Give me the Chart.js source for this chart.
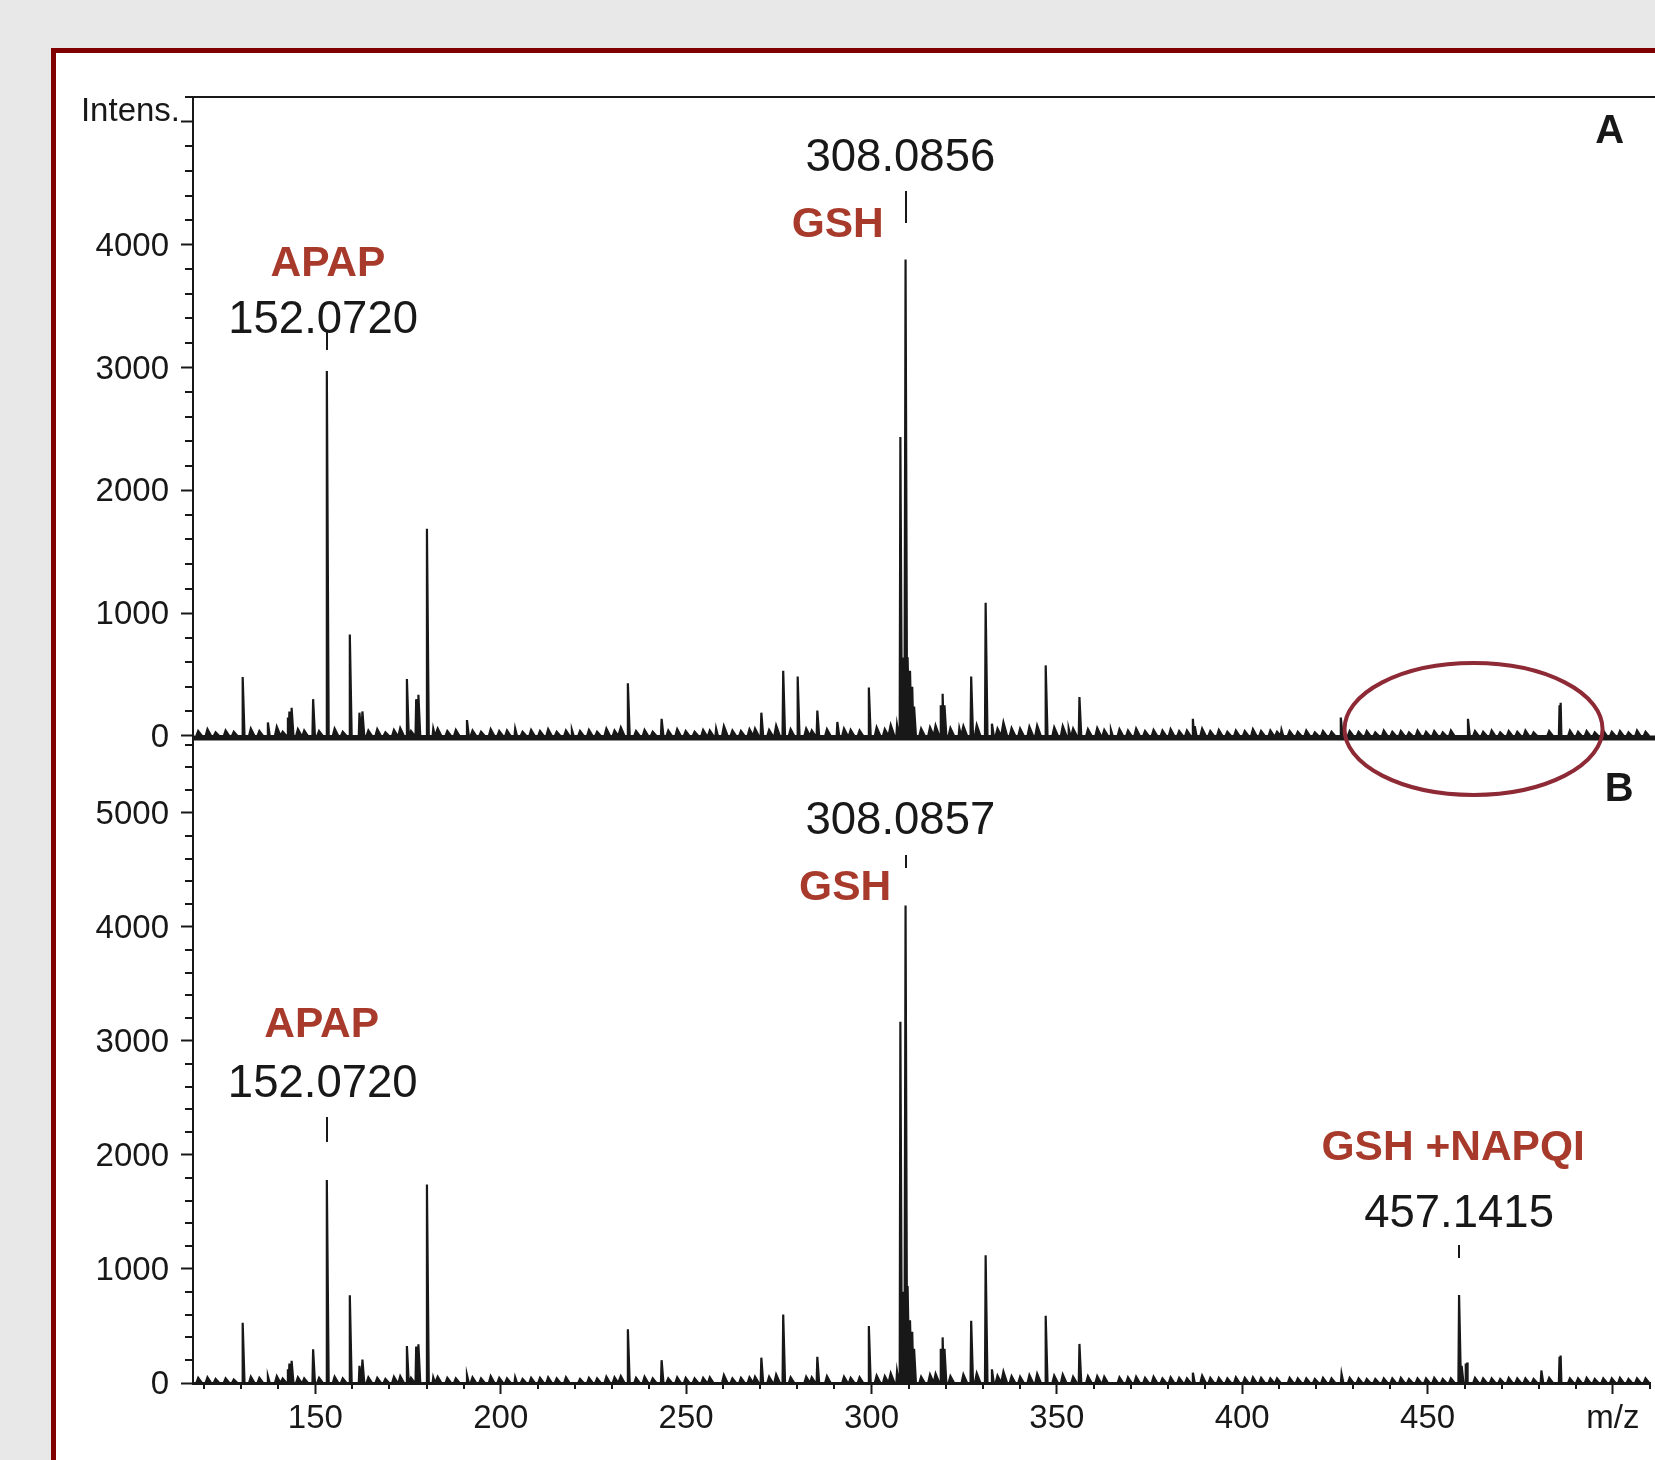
<!DOCTYPE html>
<html>
<head>
<meta charset="utf-8">
<title>MS spectra</title>
<script src="https://cdn.jsdelivr.net/npm/chart.js@4.4.1/dist/chart.umd.min.js"></script>
<style>
    html, body { margin: 0; padding: 0; background: #e8e8e8; overflow: hidden; width: 1655px; height: 1460px; }
    #frame { position: absolute; left: 51px; top: 48px; width: 1700px; height: 1500px; border: 5px solid #800000; background: #fff; box-sizing: border-box; }
    #wrap { position: absolute; left: 0; top: 0; width: 1655px; height: 1460px; }
</style>
</head>
<body>
<div id="frame"></div>
<div id="wrap"><canvas id="ms" width="1655" height="1460"></canvas></div>
<script>
// Peaks of spectrum A (top) - m/z and intensity
const peaksAMz  = [130.4, 137.2, 142.6, 143.0, 143.6, 149.4, 153.1, 159.3, 161.9, 162.7, 174.7, 177.2, 177.8, 180.1, 181.8, 190.9, 203.9, 219.2, 234.3, 243.4, 258.1, 270.3, 276.2, 280.1, 285.4, 290.8, 299.3, 306.9, 307.8, 308.4, 309.2, 309.8, 310.4, 311.0, 311.5, 318.7, 319.2, 319.7, 323.7, 326.9, 330.8, 332.5, 347.0, 353.2, 356.1, 364.6, 386.7, 387.2, 410.6, 426.6, 460.9, 485.6, 485.9];
const peaksAInt = [480, 110, 150, 200, 230, 300, 2972, 827, 190, 200, 464, 300, 335, 1687, 60, 130, 60, 50, 430, 140, 60, 190, 531, 484, 207, 114, 395, 90, 2435, 640, 3879, 640, 531, 400, 240, 250, 343, 250, 63, 484, 1085, 100, 575, 60, 318, 50, 140, 80, 50, 150, 140, 250, 270];

// Peaks of spectrum B (bottom)
const peaksBMz  = [130.4, 137.2, 142.6, 143.0, 143.6, 149.4, 153.1, 159.3, 161.9, 162.7, 174.7, 177.2, 177.8, 180.1, 181.8, 190.9, 203.9, 234.3, 243.4, 270.3, 276.2, 285.4, 299.3, 306.9, 307.8, 308.4, 309.2, 309.8, 310.4, 311.0, 311.5, 318.7, 319.2, 319.7, 326.9, 330.8, 332.5, 347.0, 356.1, 386.7, 426.8, 458.5, 459.2, 460.3, 460.7, 480.7, 485.6, 485.9];
const peaksBInt = [528, 60, 120, 170, 195, 296, 1781, 770, 150, 205, 324, 320, 340, 1740, 50, 70, 50, 472, 200, 222, 600, 230, 500, 100, 3169, 800, 4188, 850, 550, 450, 300, 300, 400, 300, 546, 1120, 120, 590, 343, 90, 80, 772, 150, 170, 180, 110, 230, 240];

// Baseline noise (same m/z grid, separate heights per spectrum)
const noiseMz = [118.4, 120.9, 123.1, 125.8, 128.0, 132.6, 134.9, 139.6, 141.2, 145.3,
    147.0, 151.0, 155.2, 157.4, 164.3, 166.7, 168.9, 171.2, 172.9, 175.8,
    183.0, 185.6, 187.9, 192.4, 194.7, 197.3, 199.6, 201.7, 205.9, 208.2,
    210.6, 212.8, 215.1, 217.6, 221.4, 223.8, 226.0, 228.5, 230.7, 232.4,
    236.5, 238.8, 241.0, 245.2, 247.6, 249.9, 252.3, 254.6, 256.4, 260.2,
    262.5, 264.8, 267.1, 268.6, 272.4, 274.3, 278.2, 282.4, 283.9, 288.0,
    292.6, 294.4, 296.8, 301.4, 303.6, 305.2, 313.4, 315.8, 317.3, 321.3,
    324.8, 328.4, 334.0, 335.6, 337.8, 340.1, 342.6, 344.7, 349.3, 351.6,
    354.4, 358.4, 360.9, 362.8, 366.9, 369.2, 371.4, 373.8, 376.1, 378.5,
    380.7, 383.0, 385.1, 389.2, 391.4, 393.7, 396.0, 398.3, 400.7, 402.9,
    405.1, 407.6, 409.4, 412.8, 415.0, 417.3, 419.6, 421.8, 424.1, 429.0,
    431.4, 433.6, 435.9, 438.2, 440.5, 442.8, 445.0, 447.3, 449.6, 451.8,
    454.1, 456.3, 462.8, 465.0, 467.3, 469.6, 471.9, 474.2, 476.4, 478.6,
    482.8, 488.4, 490.6, 492.9, 495.1, 497.4, 499.7, 501.9, 504.2, 506.5,
    508.8];
const noiseAInt = [40, 55, 30, 45, 35, 60, 40, 75, 35, 55,
    45, 40, 60, 35, 45, 55, 30, 50, 65, 40,
    60, 40, 50, 45, 35, 55, 40, 45, 35, 50,
    40, 55, 35, 45, 40, 50, 35, 60, 45, 70,
    40, 50, 35, 45, 55, 40, 35, 50, 45, 80,
    45, 40, 55, 60, 50, 85, 55, 60, 45, 55,
    60, 50, 45, 70, 55, 90, 60, 70, 85, 65,
    80, 90, 60, 110, 65, 60, 75, 85, 70, 80,
    60, 55, 65, 50, 55, 45, 60, 40, 50, 45,
    55, 40, 45, 60, 40, 50, 35, 45, 40, 55,
    40, 45, 35, 40, 35, 45, 30, 40, 35, 40,
    35, 40, 30, 45, 35, 40, 30, 45, 35, 40,
    30, 45, 40, 35, 45, 30, 40, 35, 45, 30,
    40, 45, 35, 40, 30, 45, 35, 40, 30, 45,
    35];
const noiseBInt = [45, 50, 35, 40, 30, 55, 45, 60, 40, 50,
    40, 45, 55, 40, 50, 45, 35, 55, 60, 45,
    55, 45, 40, 50, 40, 60, 45, 40, 35, 45,
    45, 50, 40, 50, 35, 45, 40, 55, 50, 60,
    45, 55, 40, 40, 50, 45, 40, 45, 50, 70,
    40, 45, 50, 55, 55, 75, 50, 55, 50, 60,
    55, 45, 50, 65, 60, 85, 55, 75, 80, 60,
    75, 85, 65, 100, 60, 55, 70, 80, 65, 75,
    55, 60, 60, 55, 50, 50, 55, 45, 55, 40,
    50, 45, 40, 65, 45, 45, 40, 50, 45, 50,
    45, 40, 40, 45, 40, 40, 35, 45, 40, 45,
    40, 35, 35, 40, 40, 45, 35, 40, 40, 45,
    35, 40, 45, 40, 40, 35, 45, 40, 40, 35,
    45, 40, 40, 45, 35, 40, 40, 45, 35, 40,
    40];

// Axis ranges and tick steps
const mzRange = [117.0, 510.2];
const intensARange = [-20.4, 5203];
const intensBRange = [0, 5653];
const mzMajor = 50, mzMinor = 10;
const intMajor = 1000, intMinor = 200;

const FONT = "'Liberation Sans', Arial, Helvetica, sans-serif";
const INK = '#181818';
const RED = '#a83a2c';

// Annotations (placed in data units of each panel)
const notes = [
    { axis: 'yA', text: 'APAP',     x: 153.4, y: 3871, size: 42.5, bold: true,  color: RED },
    { axis: 'yA', text: '152.0720', x: 152.1, y: 3415, size: 45.5, bold: false, color: INK },
    { axis: 'yA', text: '308.0856', x: 307.8, y: 4731, size: 45.5, bold: false, color: INK },
    { axis: 'yA', text: 'GSH',      x: 290.9, y: 4186, size: 42.5, bold: true,  color: RED },
    { axis: 'yA', text: 'A',        x: 499.1, y: 4945, size: 40, bold: true,  color: INK },
    { axis: 'yB', text: '308.0857', x: 307.8, y: 4956, size: 45.5, bold: false, color: INK },
    { axis: 'yB', text: 'GSH',      x: 292.9, y: 4373, size: 42.5, bold: true,  color: RED },
    { axis: 'yB', text: 'B',        x: 501.7, y: 5228, size: 40, bold: true,  color: INK },
    { axis: 'yB', text: 'APAP',     x: 151.7, y: 3167, size: 42.5, bold: true,  color: RED },
    { axis: 'yB', text: '152.0720', x: 152.0, y: 2649, size: 45.5, bold: false, color: INK },
    { axis: 'yB', text: 'GSH +NAPQI', x: 456.9, y: 2088, size: 42.5, bold: true, color: RED },
    { axis: 'yB', text: '457.1415', x: 458.5, y: 1509, size: 45.5, bold: false, color: INK }
];
const markers = [
    { axis: 'yA', x: 153.1, from: 3306, to: 3143 },
    { axis: 'yA', x: 309.2, from: 4438, to: 4177 },
    { axis: 'yB', x: 309.2, from: 4632, to: 4518 },
    { axis: 'yB', x: 153.1, from: 2333, to: 2114 },
    { axis: 'yB', x: 458.5, from: 1211, to: 1096 }
];
const circled = { axis: 'yA', x: 462.4, y: 57, dx: 34.8, dy: 537 };

// Turn stick list into a profile-like trace
function peakTrace(mz, inten, lead, tail) {
    const pts = [];
    mz.forEach((m, i) => {
        pts.push({ x: m - lead, y: 0 }, { x: m, y: inten[i] }, { x: m + tail, y: 0 });
    });
    return pts;
}
function spectrum(mz, inten, nInt) {
    return peakTrace(mz, inten, 0.18, 0.5)
        .concat(peakTrace(noiseMz, nInt, 0.5, 1.0))
        .sort((p, q) => p.x - q.x);
}

const isMajor = (v, step) => Math.abs(v % step) < 1e-6;

// ticks on fixed steps starting from zero
function stepTicks(step) {
    return s => {
        const list = [];
        for (let v = Math.ceil(s.min / step) * step; v <= s.max; v += step) {
            list.push({ value: Math.round(v * 100) / 100 });
        }
        s.ticks = list;
    };
}

const decor = {
    id: 'decor',
    afterDraw(chart) {
        const ctx = chart.ctx;
        const xs = chart.scales.x, yA = chart.scales.yA, yB = chart.scales.yB;
        const area = chart.chartArea;
        ctx.save();
        ctx.strokeStyle = INK;

        // frame top line
        ctx.lineWidth = 2;
        ctx.beginPath();
        ctx.moveTo(area.left - 1, area.top);
        ctx.lineTo(chart.width, area.top);
        ctx.stroke();

        // baseline of the upper spectrum
        ctx.lineWidth = 5;
        ctx.beginPath();
        ctx.moveTo(area.left, yA.bottom - 0.5);
        ctx.lineTo(chart.width, yA.bottom - 0.5);
        ctx.stroke();

        // minor ticks
        ctx.lineWidth = 2;
        [yA, yB].forEach(s => {
            s.ticks.forEach(t => {
                if (isMajor(t.value, intMajor)) return;
                const py = Math.round(s.getPixelForValue(t.value));
                ctx.beginPath();
                ctx.moveTo(s.right - 8, py);
                ctx.lineTo(s.right, py);
                ctx.stroke();
            });
        });
        xs.ticks.forEach(t => {
            if (isMajor(t.value, mzMajor)) return;
            const px = Math.round(xs.getPixelForValue(t.value));
            ctx.beginPath();
            ctx.moveTo(px, xs.top);
            ctx.lineTo(px, xs.top + 6);
            ctx.stroke();
        });

        // "Intens." axis title sits on the 5000 tick
        ctx.fillStyle = INK;
        ctx.font = '33px ' + FONT;
        ctx.textAlign = 'right';
        ctx.textBaseline = 'alphabetic';
        ctx.fillText('Intens.', 180, yA.getPixelForValue(5000) - 1);

        // peak labels (cap-height centred on the anchor)
        ctx.textAlign = 'center';
        ctx.textBaseline = 'middle';
        notes.forEach(n => {
            const s = chart.scales[n.axis];
            ctx.fillStyle = n.color;
            ctx.font = (n.bold ? 'bold ' : '') + n.size + 'px ' + FONT;
            ctx.fillText(n.text, xs.getPixelForValue(n.x), s.getPixelForValue(n.y) + 3.5);
        });

        // label markers
        ctx.lineWidth = 2;
        markers.forEach(m => {
            const s = chart.scales[m.axis];
            const px = Math.round(xs.getPixelForValue(m.x));
            ctx.beginPath();
            ctx.moveTo(px, s.getPixelForValue(m.from));
            ctx.lineTo(px, s.getPixelForValue(m.to));
            ctx.stroke();
        });

        // red ellipse around the region of interest
        const sc = chart.scales[circled.axis];
        const cx = xs.getPixelForValue(circled.x);
        const cy = sc.getPixelForValue(circled.y);
        const rx = xs.getPixelForValue(circled.x + circled.dx) - cx;
        const ry = sc.getPixelForValue(circled.y - circled.dy) - cy;
        ctx.strokeStyle = '#8d2a35';
        ctx.lineWidth = 4;
        ctx.beginPath();
        ctx.ellipse(cx, cy, rx, ry, 0, 0, Math.PI * 2);
        ctx.stroke();
        ctx.restore();
    }
};

const lineStyle = {
    borderColor: INK,
    backgroundColor: INK,
    borderWidth: 2.2,
    pointRadius: 0,
    tension: 0,
    fill: 'origin'
};

function yAxis(range, stackWeight, labelFn) {
    return {
        type: 'linear',
        position: 'left',
        stack: 'spectra',
        stackWeight: stackWeight,
        min: range[0],
        max: range[1],
        border: { color: INK, width: 2 },
        grid: {
            drawOnChartArea: false,
            tickLength: 12,
            tickWidth: 2,
            tickColor: c => isMajor(c.tick.value, intMajor) ? INK : 'rgba(0,0,0,0)'
        },
        ticks: {
            autoSkip: false,
            padding: 12,
            labelOffset: 2,
            color: INK,
            font: { family: FONT, size: 33 },
            callback: labelFn
        },
        afterBuildTicks: stepTicks(intMinor),
        afterFit: s => { s.width = 193; }
    };
}

const ctx = document.getElementById('ms').getContext('2d');
new Chart(ctx, {
    type: 'line',
    data: {
        datasets: [
            Object.assign({ label: 'B', data: spectrum(peaksBMz, peaksBInt, noiseBInt), yAxisID: 'yB' }, lineStyle),
            Object.assign({ label: 'A', data: spectrum(peaksAMz, peaksAInt, noiseAInt), yAxisID: 'yA' }, lineStyle)
        ]
    },
    options: {
        responsive: false,
        devicePixelRatio: 1,
        animation: false,
        layout: { padding: { top: 97, left: 0, right: 0, bottom: 0 } },
        plugins: { legend: { display: false }, tooltip: { enabled: false } },
        scales: {
            x: {
                type: 'linear',
                position: 'bottom',
                min: mzRange[0],
                max: mzRange[1],
                border: { color: INK, width: 3 },
                grid: {
                    drawOnChartArea: false,
                    tickLength: 11,
                    tickWidth: 2,
                    tickColor: c => isMajor(c.tick.value, mzMajor) ? INK : 'rgba(0,0,0,0)'
                },
                ticks: {
                    autoSkip: false,
                    maxRotation: 0,
                    padding: 5,
                    color: INK,
                    font: { family: FONT, size: 33 },
                    callback: v => isMajor(v, mzMajor) ? (v === 500 ? 'm/z' : String(v)) : ''
                },
                afterBuildTicks: stepTicks(mzMinor),
                afterFit: s => { s.height = 77; }
            },
            yB: yAxis(intensBRange, 644.5, v => isMajor(v, intMajor) ? String(v) : ''),
            yA: yAxis(intensARange, 641.5, v => (isMajor(v, intMajor) && v < 5000) ? String(v) : '')
        }
    },
    plugins: [decor]
});
</script>
</body>
</html>
